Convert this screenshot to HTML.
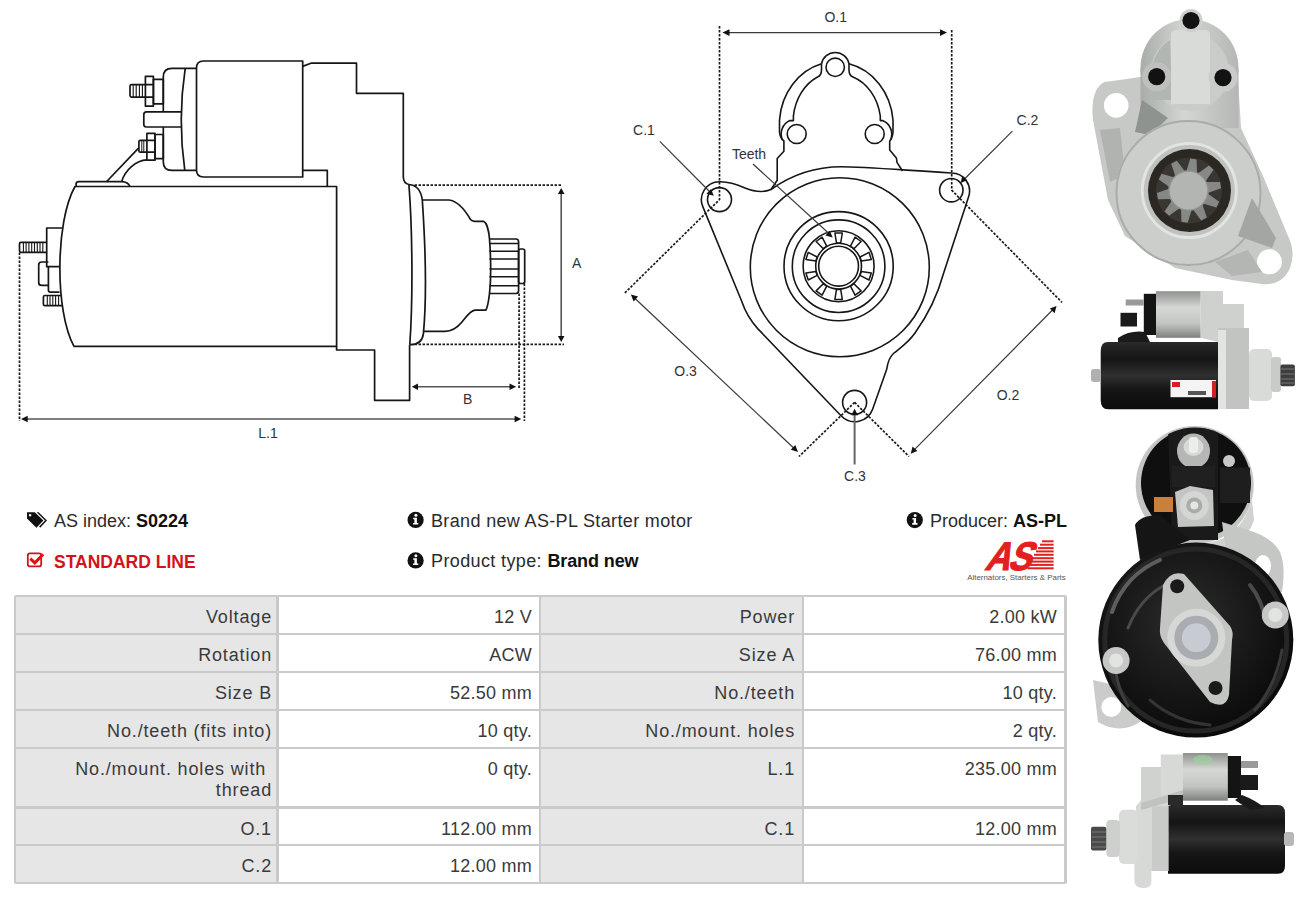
<!DOCTYPE html>
<html><head><meta charset="utf-8">
<style>
*{margin:0;padding:0;box-sizing:border-box}
html,body{width:1305px;height:898px;overflow:hidden;background:#fff}
body{position:relative;font-family:"Liberation Sans",sans-serif;color:#222}
.abs{position:absolute}
.t{position:absolute;white-space:nowrap;font-size:18px;line-height:20px;color:#2b2b2b}
.b{font-weight:bold;color:#111}
#tbl{position:absolute;left:14px;top:595px;width:1053px;height:289px;background:#cacaca;border-radius:2px}
.c{position:absolute;font-size:18px;line-height:21px;color:#3a3a3a;text-align:right;white-space:nowrap}
.g{background:#e6e6e6;letter-spacing:0.85px}
.w{background:#fff;letter-spacing:0.25px}
svg{position:absolute;left:0;top:0}
</style></head>
<body>
<!-- DRAWINGS -->
<svg id="draw" width="1305" height="898" viewBox="0 0 1305 898">
<g fill="none" stroke="#161616" stroke-width="1.7" stroke-linejoin="round">
 <!-- solenoid body -->
 <path d="M302.7,61 H203.5 Q196.5,61 196.5,68 V170 Q196.5,177 203.5,177 H302.7 Z"/>
 <!-- end cap -->
 <path d="M196.5,68.4 H172 Q163.3,68.4 163.3,77 V111.8 M163.3,127 V162 Q163.3,170.4 172,170.4 H196.5"/>
 <path d="M185.2,68.4 Q177.5,119 184.8,170.4"/>
 <!-- upper terminal -->
 <rect x="153.4" y="79.4" width="9.9" height="24.4"/>
 <rect x="145.4" y="76.4" width="8" height="29.7"/>
 <path d="M145.4,84.6 H153.4 M145.4,97.1 H153.4"/>
 <path d="M145.4,84.7 H131.5 Q130,84.7 130,86.2 V95.6 Q130,97.1 131.5,97.1 H145.4"/>
 <path d="M133.2,85 V97 M136.2,85 V97 M139.4,85 V97 M142.4,85 V97" stroke-width="1.1"/>
 <!-- middle tab -->
 <path d="M182,111.8 H146.5 Q143.8,111.8 143.8,114.5 V124.3 Q143.8,127 146.5,127 H181.5"/>
 <!-- lower terminal -->
 <rect x="155" y="134.5" width="8.3" height="24.1"/>
 <rect x="146.9" y="133.4" width="8.1" height="26.8"/>
 <path d="M146.9,140.4 H155 M146.9,152.2 H155"/>
 <path d="M146.9,140.4 H140.3 Q138.9,140.4 138.9,141.8 V150.8 Q138.9,152.2 140.3,152.2 H146.9"/>
 <path d="M141.8,140.6 V152 M143.8,140.6 V152" stroke-width="1"/>
 <!-- wires -->
 <path d="M138.3,148.4 L106.7,181.5"/>
 <path d="M146.9,159.9 C136,160.5 125,170 121.7,181.5"/>
 <path d="M76.1,186.5 V183.5 Q76.5,181.7 79,181.7 H121.5 Q128.5,182 129.8,186.5"/>
 <!-- motor body -->
 <path d="M75,186.5 H336.6 V346.4 H74 C55,312 55,222 75,186.5 Z"/>
 <!-- rear end parts -->
 <path d="M62.3,228 H46.7 V266.7 H59.6"/>
 <path d="M46.7,242.3 H21 Q19.5,242.3 19.5,243.8 V250.8 Q19.5,252.3 21,252.3 H46.7"/>
 <path d="M23.4,242.6 V252 M26.1,242.6 V252 M28.9,242.6 V252 M31.7,242.6 V252 M34.5,242.6 V252 M37.3,242.6 V252 M40,242.6 V252 M42.8,242.6 V252" stroke-width="1.1"/>
 <path d="M48.4,262 H41.7 Q38.7,262 38.7,265 V282.4 Q38.7,285.4 41.7,285.4 H48.4"/>
 <path d="M48.4,266.7 V290 Q48.4,292.1 50.5,292.1 H59.5"/>
 <path d="M61.5,295.5 H45 Q43.4,295.5 43.4,297 V304.2 Q43.4,305.7 45,305.7 H62.6"/>
 <path d="M47.3,295.8 V305.4 M50,295.8 V305.4 M52.8,295.8 V305.4 M55.6,295.8 V305.4 M58.6,295.8 V305.4" stroke-width="1.1"/>
 <!-- housing -->
 <path d="M302.7,66.4 L310.9,63.2 H356.5 V93.3 H403.3 V177 Q403.6,183.5 408.9,184.5"/>
 <path d="M302.7,170.4 H327.3 V186.5"/>
 <path d="M336.6,346.4 V350 H374.6 V400.3 H409.6 V344.7"/>
 <!-- flange -->
 <path d="M408.9,184.5 C412.5,230 413,300 409.8,344.7"/>
 <path d="M408.9,184.5 C416,185 421,190 422.3,200 C425,240 427.5,290 423.4,333.6 C422.5,341 418,344.7 410,344.7"/>
 <!-- nose -->
 <path d="M422.3,200 H449 C458,201 465,210 470.5,219.5 Q472,221.3 474.5,221.3 H483.5 C487,223 489,232 489.5,239 C491,260 491,280 489.5,293.5 C488.5,302 487.5,308 485.7,310.2 H475 C470,311 467,316 462,322 C457,328 452,331.4 445,331.4 H423.4"/>
 <!-- pinion -->
 <path d="M489.5,239 H516 Q518.6,239 518.6,242 V290.5 Q518.6,293.5 516,293.5 H489.5"/>
 <path d="M489.5,243.5 H518.6 M489.5,251.3 H518.6 M489.5,259 H518.6 M489.5,269 H518.6 M489.5,276.8 H518.6 M489.5,285.7 H518.6" stroke-width="1.5"/>
 <rect x="518.6" y="249" width="6.1" height="34.5" rx="2"/>
</g>
<g stroke="#1a1a1a" stroke-width="1.7" stroke-dasharray="2.5 1.5" fill="none">
 <path d="M414.5,185.2 H562"/>
 <path d="M414.5,344.3 H564"/>
 <path d="M519.1,293.5 V389"/>
 <path d="M524.4,283.5 V421"/>
 <path d="M19.5,252.5 V421"/>
</g>
<g stroke="#555" stroke-width="1.6" fill="none">
 <path d="M561.2,192 V338"/>
 <path d="M416,386.8 H511"/>
 <path d="M25,419 H516"/>
</g>
<g fill="#111">
 <path d="M561.2,188 L564.5,194 L557.9,194 Z"/>
 <path d="M561.2,342 L564.5,336 L557.9,336 Z"/>
 <path d="M411.8,386.8 L418,383.5 L418,390.1 Z"/>
 <path d="M516.2,386.8 L509.5,383.5 L509.5,390.1 Z"/>
 <path d="M21,419 L27.7,415.7 L27.7,422.3 Z"/>
 <path d="M521.3,419 L514.6,415.7 L514.6,422.3 Z"/>
</g>
<g font-family="Liberation Sans" font-size="14" fill="#333" text-anchor="middle">
 <text x="576.7" y="268">A</text>
 <text x="467.7" y="404">B</text>
 <text x="268" y="438">L.1</text>
</g>

<g fill="none" stroke="#161616" stroke-width="1.6" stroke-linejoin="round">
 <!-- housing cap -->
 <path d="M821.5,63.8 A57,63.5 0 0 0 779.5,120 V132 Q780,138 783.9,141 V151.2 L777.2,158.5 V180.2 L771,189.5"/>
 <path d="M849,63.8 A57,63.5 0 0 1 893,120 V132 Q892.5,138 889.7,141 V150 L896.4,158 L897,162.4 L902.5,171"/>
 <path d="M821.5,63.8 A14,14 0 0 1 849,63.8 V70 Q849,75.5 853,77 A41,50 0 0 1 880.3,116 V120.6 H882.5 A14.5,14.5 0 0 1 890.5,140"/>
 <path d="M821.5,63.8 V70 Q821.5,75.5 817.5,77 A41,50 0 0 0 793.4,116 V120.6 H790 A14.5,14.5 0 0 0 782.5,140"/>
 <circle cx="835.2" cy="67.3" r="9.2"/>
 <circle cx="796.7" cy="134" r="9.5"/>
 <circle cx="874.7" cy="134" r="9.5"/>
 <!-- flange plate -->
 <path d="M771,189.5 C790,176 815,166.8 841.3,166.8 C860,166.8 880,168.5 951.5,173 A18,18 0 0 1 968.6,196.7 L943.5,273.5 C939,290 930,312 915,333 C908,343 900,348 894,353 C889,357 887.5,364 886.7,369.3 L872.7,409 A19,19 0 0 1 841.3,416 L757.7,328.6 C750,320 745,311 742,302 L702.9,206.9 A18,18 0 0 1 719.3,181.7 C727,181.5 735,183.5 745,188 C755,192 765,192 771,189.5 Z"/>
 <circle cx="719.5" cy="199.6" r="12"/>
 <circle cx="951.3" cy="190.2" r="11.7"/>
 <circle cx="854.6" cy="402.4" r="12"/>
 <!-- circles -->
 <circle cx="839.8" cy="267.2" r="89.5"/>
 <circle cx="838.6" cy="266.2" r="54.6"/>
 <circle cx="838.6" cy="266.2" r="46.3"/>
 <circle cx="838.6" cy="266.2" r="35.5"/>
 <circle cx="838.6" cy="266.2" r="22.9"/>
 <circle cx="838.6" cy="266.2" r="19.9"/>
 <path d="M834.9,233.0 L842.3,233.0 L840.7,243.0 L836.5,243.0 Z M855.1,237.2 L861.1,241.5 L853.9,248.7 L850.5,246.2 Z M869.0,252.4 L871.3,259.5 L861.3,261.0 L860.0,257.0 Z M871.3,272.9 L869.0,280.0 L860.0,275.4 L861.3,271.4 Z M861.1,290.9 L855.1,295.2 L850.5,286.2 L853.9,283.7 Z M842.3,299.4 L834.9,299.4 L836.5,289.4 L840.7,289.4 Z M822.1,295.2 L816.1,290.9 L823.3,283.7 L826.7,286.2 Z M808.2,280.0 L805.9,272.9 L815.9,271.4 L817.2,275.4 Z M805.9,259.5 L808.2,252.4 L817.2,257.0 L815.9,261.0 Z M816.1,241.5 L822.1,237.2 L826.7,246.2 L823.3,248.7 Z" stroke-width="1.5"/>
</g>
<g stroke="#1a1a1a" stroke-width="1.7" stroke-dasharray="2.5 1.5" fill="none">
 <path d="M719.5,26 V199.6 L624.4,293.4"/>
 <path d="M951.7,30 V190.2 L1062,302.4"/>
 <path d="M854.6,402.4 L799,456.5 M854.6,402.4 L909,456.5"/>
</g>
<g stroke="#3a3a3a" stroke-width="1.2" fill="none">
 <path d="M727,32.6 H942"/>
 <path d="M634,297.5 L794.5,448.8"/>
 <path d="M1053,309.5 L914,450.2"/>
 <path d="M659.8,141.3 L710.5,192.5"/>
 <path d="M1012.4,131.2 L964,179.5"/>
 <path d="M753,164 L829.5,234"/>
</g>
<path d="M854.6,464.5 V414" stroke="#666" stroke-width="2"/>
<g fill="#111">
 <path d="M722.5,32.6 L729.5,29.3 L729.5,35.9 Z"/>
 <path d="M947,32.6 L940,29.3 L940,35.9 Z"/>
 <path d="M630.9,294.5 L638.1,296.6 L633.6,301.4 Z"/>
 <path d="M798,451.9 L790.8,449.8 L795.3,445 Z"/>
 <path d="M1056.5,306 L1054.6,313.2 L1049.9,308.6 Z"/>
 <path d="M910.7,453.7 L912.6,446.5 L917.3,451.1 Z"/>
 <path d="M713.8,195.8 L706.5,193.8 L711,189 Z"/>
 <path d="M960.6,183 L962.4,175.8 L967.2,180.3 Z"/>
 <path d="M832.7,237.5 L825.4,235.6 L829.8,230.8 Z"/>
 <path d="M854.6,408.8 L851.3,415.2 L857.9,415.2 Z"/>
</g>
<g font-family="Liberation Sans" font-size="14" fill="#333" text-anchor="middle">
 <text x="835.7" y="22">O.1</text>
 <text x="644" y="135.1">C.1</text>
 <text x="1027.5" y="124.7">C.2</text>
 <text x="749" y="159">Teeth</text>
 <text x="685.6" y="375.5">O.3</text>
 <text x="1008" y="400">O.2</text>
 <text x="855" y="481">C.3</text>
</g>
<defs>
 <clipPath id="solc"><circle cx="1194.7" cy="483.6" r="56"/><rect x="1130" y="520" width="100" height="30"/></clipPath>
 <linearGradient id="silv" x1="0" y1="0" x2="1" y2="0">
  <stop offset="0" stop-color="#a9ada9"/><stop offset="0.45" stop-color="#d3d6d3"/><stop offset="1" stop-color="#b4b7b4"/>
 </linearGradient>
 <linearGradient id="silvV" x1="0" y1="0" x2="0" y2="1">
  <stop offset="0" stop-color="#8f918f"/><stop offset="0.35" stop-color="#d6d8d6"/><stop offset="0.7" stop-color="#c2c4c2"/><stop offset="1" stop-color="#7e807e"/>
 </linearGradient>
 <linearGradient id="blackV" x1="0" y1="0" x2="0" y2="1">
  <stop offset="0" stop-color="#2a2a2a"/><stop offset="0.25" stop-color="#151515"/><stop offset="0.5" stop-color="#303030"/><stop offset="0.7" stop-color="#161616"/><stop offset="1" stop-color="#0c0c0c"/>
 </linearGradient>
 <radialGradient id="blkR" cx="0.45" cy="0.4" r="0.6">
  <stop offset="0" stop-color="#2c2c2c"/><stop offset="0.7" stop-color="#141414"/><stop offset="1" stop-color="#0a0a0a"/>
 </radialGradient>
</defs>
<!-- PHOTO 1 : front view -->
<g>
 <path d="M1104,82 C1120,80 1135,78 1145,76 L1238,78 L1241,128 L1263,176 L1288,236 Q1296,252 1290,268 Q1282,286 1262,284 L1232,280 L1175,268 L1125,236 L1108,200 L1093,120 Q1090,90 1104,82 Z" fill="#c6c9c6"/>
 <circle cx="1189.5" cy="68" r="49" fill="url(#silv)"/>
 <rect x="1140.5" y="68" width="98" height="60" fill="url(#silv)"/>
 <circle cx="1190" cy="72" r="39" fill="#c9ccc9"/>
 <path d="M1152,72 A38,38 0 0 1 1170,40 L1172,100 L1152,100 Z" fill="#b2b6b2"/>
 <path d="M1171,34 Q1171,30 1178,30 H1204 Q1210,30 1210,34 V104 H1171 Z" fill="#d8dbd8"/>
 <circle cx="1191" cy="20.5" r="11.5" fill="#cdd0cd"/>
 <circle cx="1156.7" cy="76.7" r="14.5" fill="#bdc0bd"/>
 <circle cx="1223" cy="77.6" r="14.5" fill="#c9ccc9"/>
 <circle cx="1191" cy="20.5" r="8.6" fill="#121212"/>
 <circle cx="1156.7" cy="76.7" r="8.6" fill="#121212"/>
 <circle cx="1223" cy="77.6" r="8.6" fill="#121212"/>
 <path d="M1142,100 L1168,118 L1150,135 L1135,132 Z" fill="#8f938f"/>
 <path d="M1100,130 L1120,128 L1125,175 L1110,182 Z" fill="#b0b3b0"/>
 <circle cx="1188.5" cy="193" r="73" fill="#cbcecb"/>
 <circle cx="1188.5" cy="193" r="72" fill="none" stroke="#a9aca9" stroke-width="2"/>
 <circle cx="1189.3" cy="190.6" r="48" fill="#bfc2bf"/>
 <circle cx="1189.3" cy="190.6" r="47" fill="none" stroke="#e2e4e2" stroke-width="3"/>
 <circle cx="1189.5" cy="190.6" r="41.5" fill="#2b2723"/>
 <circle cx="1189" cy="190.6" r="33" fill="#3a3632"/>
 <path d="M1186.1,172.0 L1190.3,158.5 L1196.6,159.4 L1197.0,173.5 Z M1197.5,173.8 L1208.9,165.4 L1213.5,169.8 L1205.5,181.5 Z M1205.8,182.1 L1220.0,181.9 L1221.1,188.2 L1207.7,192.9 Z M1207.6,193.5 L1219.2,201.8 L1216.4,207.5 L1202.8,203.4 Z M1202.3,203.9 L1206.8,217.4 L1201.2,220.4 L1192.6,209.1 Z M1191.9,209.2 L1187.7,222.7 L1181.4,221.8 L1181.0,207.7 Z M1180.5,207.4 L1169.1,215.8 L1164.5,211.4 L1172.5,199.7 Z M1172.2,199.1 L1158.0,199.3 L1156.9,193.0 L1170.3,188.3 Z M1170.4,187.7 L1158.8,179.4 L1161.6,173.7 L1175.2,177.8 Z M1175.7,177.3 L1171.2,163.8 L1176.8,160.8 L1185.4,172.1 Z" fill="#858885"/>
 <circle cx="1188.5" cy="190.6" r="19.6" fill="#b2b5b2"/>
 <circle cx="1188.5" cy="190.6" r="19.6" fill="none" stroke="#8e918e" stroke-width="1.5"/>
 <circle cx="1116.2" cy="105.4" r="12.3" fill="#fff"/>
 <circle cx="1269.4" cy="261.8" r="12.5" fill="#fff"/>
 <path d="M1252,198 L1276,238 L1272,248 L1238,236 Z" fill="#a3a6a3"/>
 <path d="M1215,262 L1248,250 L1262,272 L1232,276 Z" fill="#b3b6b3"/>
</g>
<!-- PHOTO 2 : side view -->
<g>
 <path d="M1108,342 H1218 V409.3 H1108 Q1100.7,409.3 1100.7,400 V351 Q1100.7,342 1108,342 Z" fill="url(#blackV)"/>
 <rect x="1091" y="369" width="10" height="13" rx="3" fill="#b0b0b0"/>
 <rect x="1155.9" y="291.2" width="44.8" height="46.6" fill="url(#silvV)"/>
 <rect x="1143.8" y="293.8" width="12.2" height="41.2" fill="#141414"/>
 <rect x="1125.7" y="299.5" width="18" height="6" fill="#9a9a9a"/>
 <rect x="1120.5" y="312.8" width="16.5" height="13.7" fill="#1a1a1a"/>
 <path d="M1118,338 Q1130,330 1145,332 L1150,342 L1118,342 Z" fill="#1a1a1a"/>
 <path d="M1200.7,291 H1223 V304 H1244 V328 H1249 V409 H1218 V342 L1200.7,337.8 Z" fill="#cfd1cf"/>
 <path d="M1218,328 H1249 V409 H1218 Z" fill="#c2c4c2"/>
 <rect x="1218" y="330" width="8" height="79" fill="#e2e4e2"/>
 <rect x="1249" y="349" width="23" height="52" rx="5" fill="#d9dbd9"/>
 <rect x="1271" y="357" width="10" height="35" rx="3" fill="#c9cbc9"/>
 <rect x="1280.4" y="364.6" width="14.5" height="21.7" rx="2" fill="#3e3e3e"/>
 <path d="M1281,369 H1294 M1281,374 H1294 M1281,379 H1294 M1281,383 H1294" stroke="#777" stroke-width="1"/>
 <rect x="1170.5" y="380" width="45.5" height="17.2" fill="#f4f4f4"/>
 <rect x="1172" y="382" width="8" height="5" fill="#d42020"/>
 <rect x="1212" y="381" width="4" height="16" fill="#d42020"/>
 <rect x="1188" y="391" width="18" height="4" fill="#555"/>
</g>
<!-- PHOTO 3 : rear view -->
<g>
  <path d="M1093,680 L1135,690 L1140,722 Q1120,735 1098,722 Z" fill="#c9ccc9"/>
 <circle cx="1111.3" cy="707" r="10" fill="#fff"/>
 <circle cx="1194.7" cy="485" r="59" fill="#c3c5c3"/>
 <path d="M1205,543 Q1240,540 1252,500 L1254,520 Q1245,548 1210,552 Z" fill="#cfd2cf"/>
 <circle cx="1196" cy="483" r="55" fill="#0f0f0f"/>
 <path d="M1222,522 L1248,530 Q1272,537 1280,552 Q1286,566 1282,592 L1252,594 L1226,552 Z" fill="#c4c7c4"/>
 <ellipse cx="1263" cy="566" rx="8" ry="11" fill="#fff"/>
 <path d="M1168,432 Q1170,426 1180,426 H1212 Q1217,426 1218,434 L1218,540 L1172,540 Z" fill="#1a1a1a" clip-path="url(#solc)"/>
 <ellipse cx="1193.5" cy="451" rx="16.5" ry="17.5" fill="#b4b7b4"/>
 <ellipse cx="1193.5" cy="447" rx="10" ry="9" fill="#d8dad8"/>
 <rect x="1189" y="437" width="9" height="16" rx="3" fill="#eceeec"/>
 <rect x="1172" y="466" width="43" height="21" fill="#202020"/>
 <path d="M1175,492 L1190,486 L1213,490 L1214,526 L1178,527 Z" fill="#c2c5c2"/>
 <circle cx="1194.3" cy="505.4" r="14.5" fill="#d4d6d4"/>
 <circle cx="1194.3" cy="505.4" r="8" fill="#a9aba9"/>
 <circle cx="1194.3" cy="505.4" r="4" fill="#e4e6e4"/>
 <rect x="1220" y="467.5" width="30" height="35.5" fill="#1e1e1e"/>
 <circle cx="1229" cy="461" r="6" fill="#c8c8c8"/>
 <rect x="1154" y="497" width="19" height="15" fill="#c9803c"/>
 <path d="M1135,525 Q1140,515 1160,515 L1190,540 L1140,560 Z" fill="#151515"/>
 <circle cx="1195.8" cy="640.1" r="97.5" fill="url(#blkR)"/>
 <circle cx="1195.8" cy="640.1" r="91" fill="none" stroke="#262626" stroke-width="5"/>
 <path d="M1112,612 Q1125,575 1160,560" fill="none" stroke="#6a6a6a" stroke-width="4" stroke-linecap="round" opacity="0.85"/>
 <path d="M1128,628 Q1140,598 1165,585" fill="none" stroke="#4a4a4a" stroke-width="3" stroke-linecap="round"/>
 <path d="M1114,650 Q1114,683 1128,706" fill="none" stroke="#3e3e3e" stroke-width="3" stroke-linecap="round"/>
 <path d="M1250,585 Q1262,600 1266,622" fill="none" stroke="#4a4a4a" stroke-width="4" stroke-linecap="round"/>
 <path d="M1282,650 Q1276,685 1255,710" fill="none" stroke="#3a3a3a" stroke-width="3" stroke-linecap="round"/>
 <path d="M1150,700 Q1175,722 1210,725" fill="none" stroke="#333" stroke-width="3" stroke-linecap="round"/>
 <path d="M1163,585 Q1170,570 1184,574 L1230,626 Q1234,632 1232,640 L1229,695 Q1226,710 1210,702 L1164,643 Q1159,636 1160,628 Z" fill="#c2c5c2"/>
 <circle cx="1196.3" cy="637.7" r="29" fill="#d6d8d6"/>
 <circle cx="1196.3" cy="637.7" r="22" fill="#a9acb0"/>
 <circle cx="1196.3" cy="637.7" r="14.4" fill="#c7ccd2"/>
 <circle cx="1177.2" cy="586.3" r="7" fill="#1a1a1a"/>
 <circle cx="1215.5" cy="688" r="7" fill="#1a1a1a"/>
 <circle cx="1116.1" cy="660.5" r="13.5" fill="#c5c8c5"/>
 <circle cx="1116.1" cy="660.5" r="7" fill="#e2e4e2"/>
 <circle cx="1275.3" cy="615" r="13.5" fill="#c5c8c5"/>
 <circle cx="1275.3" cy="615" r="7" fill="#e2e4e2"/>
</g>
<!-- PHOTO 4 : side view 2 -->
<g>
 <path d="M1168,805 H1278 Q1285,805 1285,813 V866 Q1285,873.7 1278,873.7 H1168 Z" fill="url(#blackV)"/>
 <rect x="1284" y="832" width="10" height="14" rx="3" fill="#b8b8b8"/>
 <rect x="1183" y="753" width="44.8" height="47.7" fill="url(#silvV)"/>
 <ellipse cx="1203" cy="760" rx="10" ry="5" fill="#9ccf9c" opacity="0.7"/>
 <rect x="1227.8" y="756" width="13.2" height="42" fill="#141414"/>
 <rect x="1241" y="761" width="17" height="7" fill="#9a9a9a"/>
 <path d="M1240,775 H1258 V790 H1240 Z" fill="#1a1a1a"/>
 <path d="M1242,795 Q1255,800 1265,808 L1250,810 L1235,800 Z" fill="#1a1a1a"/>
 <path d="M1160.8,754.4 H1183 V801 L1168.4,806 V871 H1151.4 V882 Q1151,888 1143,888 Q1134.4,888 1134.4,880 V840 L1136,806.3 L1141.2,800 V767 H1160.8 Z" fill="#d6d9d6"/>
 <rect x="1141.2" y="767" width="19.6" height="36" fill="#cfd2cf"/>
 <path d="M1141.2,803 L1183,790 V798 L1141.2,810 Z" fill="#bfc2bf"/>
 <rect x="1152" y="806.3" width="16.4" height="64.7" fill="#c8cbc8"/>
 <rect x="1168" y="795" width="15" height="10" fill="#2a2a2a"/>
 <rect x="1119" y="809.7" width="18.8" height="54.3" rx="5" fill="#dadcda"/>
 <rect x="1106.3" y="820" width="13.5" height="37" rx="4" fill="#cdd0cd"/>
 <rect x="1091" y="826.7" width="15.3" height="23.9" rx="2" fill="#4a4a4a"/>
 <path d="M1092,832 H1106 M1092,837 H1106 M1092,842 H1106 M1092,847 H1106" stroke="#7a7a7a" stroke-width="1"/>
</g>

<!-- tags icon -->
<g fill="#111">
 <path d="M27,512.2 H34.8 L43.4,520.6 L36.4,527.7 L27,518.4 Z M30.1,513.9 a1.3,1.3 0 1 0 0.01,0 Z" fill-rule="evenodd"/>
 <path d="M36.6,512.2 H38.6 L47,520.6 L40.2,527.7 L39.1,526.6 L45,520.6 Z"/>
</g>
<!-- checkbox -->
<g fill="none" stroke="#c8171e">
 <rect x="27.8" y="553.4" width="13.4" height="13" rx="2.2" stroke-width="1.8"/>
 <path d="M30.3,558.6 L34.8,562.8 L43.2,554.2" stroke-width="3" stroke="#e0101a"/>
</g>
<!-- info icons -->
<g id="info1">
 <circle cx="415.6" cy="519.9" r="8.1" fill="#111"/>
 <circle cx="415.9" cy="515.2" r="1.5" fill="#fff"/>
 <path d="M413.2,517.7 H416.9 V522.9 H418.3 V524.6 H413 V522.9 H414.4 V519.3 H413.2 Z" fill="#fff"/>
</g>
<use href="#info1" x="0" y="40.5"/>
<use href="#info1" x="499.2" y="0.2"/>
<!-- AS logo -->
<g fill="#e2201f">
 <rect x="1042" y="540.3" width="11.6" height="2"/>
 <rect x="1040" y="543.7" width="13.6" height="2"/>
 <rect x="1038" y="547.1" width="15.6" height="2"/>
 <rect x="1036" y="550.4" width="17.6" height="2"/>
 <rect x="1034" y="553.8" width="19.6" height="2"/>
 <rect x="1032" y="557.2" width="21.6" height="2"/>
 <rect x="1030.5" y="560.6" width="23.1" height="2"/>
 <rect x="1029" y="563.9" width="24.6" height="2"/>
 <rect x="1027.4" y="567.3" width="26.2" height="2"/>
 <text x="0" y="0" font-family="Liberation Sans" font-weight="bold" font-size="40" transform="translate(984,569.5) skewX(-22) scale(0.86,1)" letter-spacing="-2" stroke="#e2201f" stroke-width="1.2">AS</text>
</g>
<text x="967.2" y="579.8" font-family="Liberation Sans" font-size="7.2" fill="#555" textLength="98.5" lengthAdjust="spacingAndGlyphs">Alternators, Starters &amp; Parts</text>

</svg>
<!-- INFO -->
<div class="t" style="left:54px;top:511.3px">AS index: <span class="b">S0224</span></div>
<div class="t" style="left:54px;top:552px;color:#d5121b;font-weight:bold;font-size:17.5px">STANDARD LINE</div>
<div class="t" style="left:431px;top:511.3px;letter-spacing:0.35px">Brand new AS-PL Starter motor</div>
<div class="t" style="left:431px;top:551.3px;letter-spacing:0.38px">Product type: <span class="b" style="letter-spacing:-0.1px">Brand new</span></div>
<div class="t" style="left:930px;top:511.3px">Producer: <span class="b">AS-PL</span></div>

<!-- TABLE -->
<div id="tbl">
<div class="c g" style="left:2px;top:2px;width:260px;height:36px;padding:10px 4px 0 0">Voltage</div>
<div class="c w" style="left:265px;top:2px;width:260px;height:36px;padding:10px 7px 0 0">12 V</div>
<div class="c g" style="left:527px;top:2px;width:261px;height:36px;padding:10px 7px 0 0">Power</div>
<div class="c w" style="left:790px;top:2px;width:260px;height:36px;padding:10px 7px 0 0">2.00 kW</div>
<div class="c g" style="left:2px;top:40px;width:260px;height:36px;padding:10px 4px 0 0">Rotation</div>
<div class="c w" style="left:265px;top:40px;width:260px;height:36px;padding:10px 7px 0 0">ACW</div>
<div class="c g" style="left:527px;top:40px;width:261px;height:36px;padding:10px 7px 0 0">Size A</div>
<div class="c w" style="left:790px;top:40px;width:260px;height:36px;padding:10px 7px 0 0">76.00 mm</div>
<div class="c g" style="left:2px;top:78px;width:260px;height:36px;padding:10px 4px 0 0">Size B</div>
<div class="c w" style="left:265px;top:78px;width:260px;height:36px;padding:10px 7px 0 0">52.50 mm</div>
<div class="c g" style="left:527px;top:78px;width:261px;height:36px;padding:10px 7px 0 0">No./teeth</div>
<div class="c w" style="left:790px;top:78px;width:260px;height:36px;padding:10px 7px 0 0">10 qty.</div>
<div class="c g" style="left:2px;top:116px;width:260px;height:36px;padding:10px 4px 0 0">No./teeth (fits into)</div>
<div class="c w" style="left:265px;top:116px;width:260px;height:36px;padding:10px 7px 0 0">10 qty.</div>
<div class="c g" style="left:527px;top:116px;width:261px;height:36px;padding:10px 7px 0 0">No./mount. holes</div>
<div class="c w" style="left:790px;top:116px;width:260px;height:36px;padding:10px 7px 0 0">2 qty.</div>
<div class="c g" style="left:2px;top:154px;width:260px;height:57px;padding:10px 4px 0 0">No./mount. holes with&nbsp;<br>thread</div>
<div class="c w" style="left:265px;top:154px;width:260px;height:57px;padding:10px 7px 0 0">0 qty.</div>
<div class="c g" style="left:527px;top:154px;width:261px;height:57px;padding:10px 7px 0 0">L.1</div>
<div class="c w" style="left:790px;top:154px;width:260px;height:57px;padding:10px 7px 0 0">235.00 mm</div>
<div class="c g" style="left:2px;top:214px;width:260px;height:35px;padding:10px 4px 0 0">O.1</div>
<div class="c w" style="left:265px;top:214px;width:260px;height:35px;padding:10px 7px 0 0">112.00 mm</div>
<div class="c g" style="left:527px;top:214px;width:261px;height:35px;padding:10px 7px 0 0">C.1</div>
<div class="c w" style="left:790px;top:214px;width:260px;height:35px;padding:10px 7px 0 0">12.00 mm</div>
<div class="c g" style="left:2px;top:251px;width:260px;height:36px;padding:10px 4px 0 0">C.2</div>
<div class="c w" style="left:265px;top:251px;width:260px;height:36px;padding:10px 7px 0 0">12.00 mm</div>
<div class="c g" style="left:527px;top:251px;width:261px;height:36px;padding:10px 7px 0 0"></div>
<div class="c w" style="left:790px;top:251px;width:260px;height:36px;padding:10px 7px 0 0"></div>
</div>
</body></html>
